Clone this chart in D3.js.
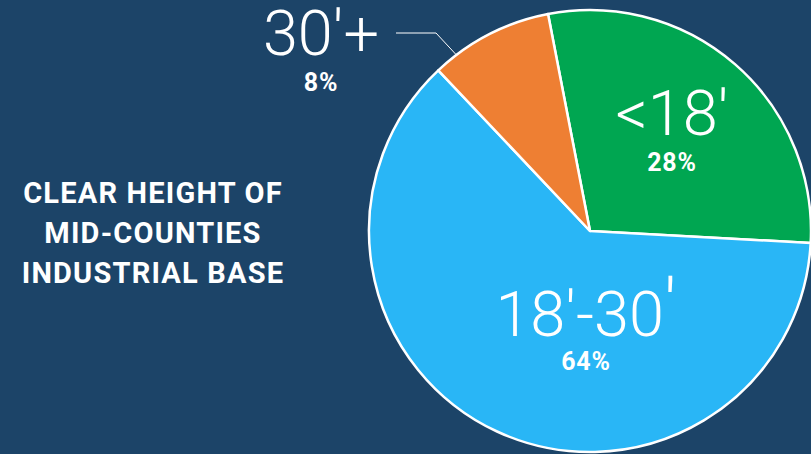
<!DOCTYPE html>
<html>
<head>
<meta charset="utf-8">
<script src="https://cdn.jsdelivr.net/npm/d3@7"></script>
<style>
  html, body { margin: 0; padding: 0; background: #1c4468; }
  svg { display: block; }
</style>
</head>
<body>
<div id="chart"></div>
<script>
// slice data, in drawing order (clockwise from the top)
const categories = ["<18′", "18′-30", "30′+"];
const shares = [28.9, 62.1, 9.0];          // slice sizes
const pctLabels = ["28%", "64%", "8%"];
const colors = ["#00a651", "#29b6f6", "#ee7f33"];
const titleLines = ["CLEAR HEIGHT OF", "MID-COUNTIES", "INDUSTRIAL BASE"];

const width = 811, height = 454;
const cx = 590, cy = 231, radius = 221;
const startDeg = -10.95;

const svg = d3.select("#chart").append("svg")
    .attr("width", width)
    .attr("height", height);

svg.append("rect")
    .attr("width", width)
    .attr("height", height)
    .attr("fill", "#1c4468");

// title on the left
svg.append("g")
    .selectAll("text")
    .data(titleLines)
    .join("text")
    .attr("x", 153)
    .attr("y", (d, i) => 203 + i * 40)
    .attr("text-anchor", "middle")
    .attr("fill", "#ffffff")
    .attr("font-family", "Roboto, 'Liberation Sans', sans-serif")
    .attr("font-weight", 700)
    .attr("font-size", 29)
    .attr("letter-spacing", 1.2)
    .text(d => d);

const pie = d3.pie()
    .sort(null)
    .value(d => d)
    .startAngle(startDeg * Math.PI / 180)
    .endAngle(startDeg * Math.PI / 180 + 2 * Math.PI);

const arc = d3.arc().innerRadius(0).outerRadius(radius);
const arcs = pie(shares);

const g = svg.append("g").attr("transform", `translate(${cx},${cy})`);

g.selectAll("path")
    .data(arcs)
    .join("path")
    .attr("d", arc)
    .attr("fill", (d, i) => colors[i])
    .attr("stroke", "#ffffff")
    .attr("stroke-width", 2.5)
    .attr("stroke-linejoin", "round");

// leader line for the small slice
const small = arcs[2];
const edgeAngle = small.startAngle + (small.endAngle - small.startAngle) * 0.19;
const ex = cx + Math.sin(edgeAngle) * radius;
const ey = cy - Math.cos(edgeAngle) * radius;
svg.append("polyline")
    .attr("points", [[396, 33], [436, 33], [ex, ey]].map(p => p.join(",")).join(" "))
    .attr("fill", "none")
    .attr("stroke", "#ffffff")
    .attr("stroke-width", 1);

// label positions (name baseline, pct baseline)
const labelPos = [
    { x: 672, y: 135, py: 171 },
    { x: 586, y: 336, py: 370 },
    { x: 321, y: 55, py: 91 }
];

const labels = svg.append("g")
    .selectAll("g")
    .data(categories)
    .join("g");

const names = labels.append("text")
    .attr("x", (d, i) => labelPos[i].x)
    .attr("y", (d, i) => labelPos[i].y)
    .attr("text-anchor", "middle")
    .attr("fill", "#ffffff")
    .attr("font-family", "Roboto, 'Open Sans', sans-serif")
    .attr("font-weight", 300)
    .attr("font-size", 63)
    .text(d => d);

// the closing prime of the middle label sits higher and larger
names.filter((d, i) => i === 1)
    .append("tspan")
    .attr("font-size", 74)
    .attr("dy", -4)
    .text("′");

labels.append("text")
    .attr("x", (d, i) => labelPos[i].x)
    .attr("y", (d, i) => labelPos[i].py)
    .attr("text-anchor", "middle")
    .attr("fill", "#ffffff")
    .attr("font-family", "Roboto, 'Open Sans', sans-serif")
    .attr("font-weight", 700)
    .attr("font-size", 25)
    .attr("letter-spacing", 0.8)
    .text((d, i) => pctLabels[i]);
</script>
</body>
</html>
